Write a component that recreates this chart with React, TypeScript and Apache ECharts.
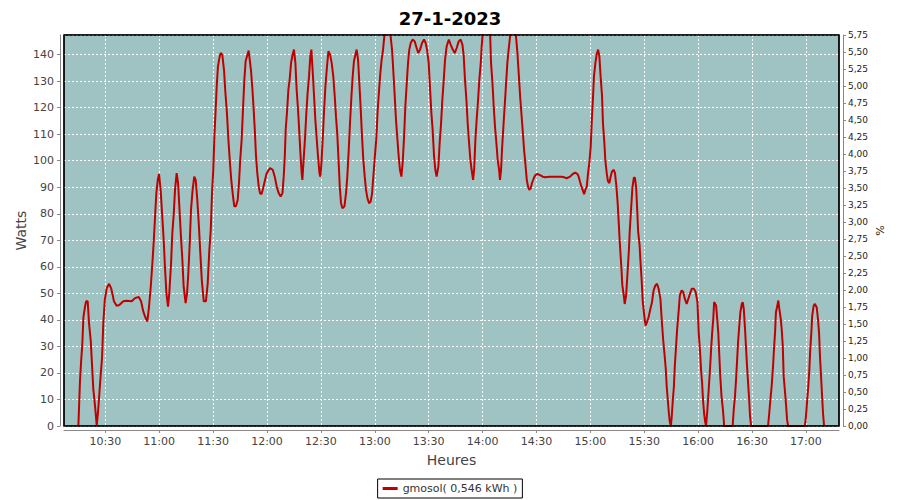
import React, { useEffect, useRef } from "react";
import * as echarts from "echarts";

// Chart texts
const chartTitle = "27-1-2023";
const seriesName = "gmosol( 0,546 kWh )";
const xAxisName = "Heures";
const yAxisName = "Watts";
const y2AxisName = "%";

// X tick labels (time of day)
const xTickLabels = ["10:30", "11:00", "11:30", "12:00", "12:30", "13:00", "13:30", "14:00", "14:30", "15:00", "15:30", "16:00", "16:30", "17:00"];

// Readings: [minutes since midnight, watts]
const readings10h: [number, number][] = [
  [615.0, 0], [615.9, 17], [616.5, 24], [617.2, 31], [617.8, 41], [618.7, 45], [619.3, 47], [620.2, 47], [620.9, 39], [621.9, 32], [622.8, 20.5], [623.3, 14], [624.1, 8.7], [624.8, 3.5], [625.2, 0], [625.9, 5], [626.7, 12.5], [627.4, 19], [628.2, 26], [628.9, 39], [629.7, 47.5], [630.8, 52], [632.1, 53.6], [633.2, 52], [634.1, 49.4], [634.8, 47], [636.3, 45.3], [637.8, 45.6], [640.0, 47], [641.9, 47.2], [644.7, 47], [646.5, 48.2], [648.6, 48.6], [649.9, 47], [651.2, 43], [652.5, 40.6], [653.4, 39.4], [654.3, 44.8], [655.3, 52.6], [656.2, 61.4], [656.9, 69], [657.7, 79], [658.4, 87.8], [659.2, 92.8], [659.9, 95],
];
const readings11h: [number, number][] = [
  [660.8, 89], [661.7, 79], [662.5, 70], [663.2, 60], [664.0, 50], [664.9, 45], [665.6, 50], [666.6, 61.4], [667.3, 72.7], [668.1, 80], [668.8, 89], [669.7, 95.3], [670.5, 91.6], [671.2, 82.8], [672.1, 71.4], [672.9, 62.6], [673.6, 52.6], [674.7, 46.3], [675.5, 50], [676.2, 57.6], [677.0, 69], [677.7, 81.5], [678.6, 89], [679.5, 94], [680.3, 92.8], [681.2, 85.3], [682.0, 76.5], [682.9, 65], [683.7, 55], [684.8, 47], [686.0, 47], [687.0, 53.8], [687.9, 66.4], [688.7, 74], [689.4, 87.8], [690.1, 96.6], [690.7, 109], [691.4, 119], [692.0, 128], [692.7, 135.6], [693.5, 138.7], [694.2, 140.6], [695.1, 140], [696.1, 134], [696.8, 126], [697.7, 118], [698.5, 108], [699.4, 99], [700.1, 92.8], [701.1, 86.5], [701.8, 82.8], [702.7, 82.8], [703.7, 85.3], [704.4, 91.6], [705.1, 100.4], [705.9, 108], [706.6, 119], [707.4, 130.6], [708.1, 137.5], [708.9, 139.5], [709.8, 141.5], [711.1, 134], [711.9, 126.8], [712.6, 119], [713.2, 111.7], [713.9, 101.6], [714.6, 95.3], [715.4, 90.3], [716.1, 87.8], [716.9, 87.4], [717.6, 89], [718.5, 91.6], [719.8, 95.3],
];
const readings12h: [number, number][] = [
  [721.7, 97.2], [723.2, 96.6], [724.3, 94], [725.4, 90.3], [726.5, 87.8], [727.6, 86.5], [728.6, 87.8], [729.3, 94], [729.9, 101.6], [730.4, 111.7], [731.2, 119], [731.9, 126.8], [732.6, 130.6], [733.4, 136.9], [734.1, 139.5], [735.0, 141.9], [735.8, 136.9], [736.5, 126.8], [737.3, 119], [737.8, 113], [738.6, 102.9], [739.3, 95.3], [739.7, 92.8], [740.4, 100.4], [741.2, 109], [741.9, 118], [742.6, 125.5], [743.4, 131.8], [744.1, 139.5], [744.7, 141.9], [745.4, 134], [746.2, 124.3], [746.9, 115.5], [747.7, 108], [748.4, 101.6], [749.2, 95.3], [749.7, 94], [750.3, 99.1], [751.0, 108], [751.7, 118], [752.5, 128], [753.4, 135.6], [754.2, 141.3], [755.1, 140], [756.0, 136.9], [756.9, 131.8], [757.7, 124.3], [758.4, 116.7], [759.2, 109], [759.9, 99.1], [760.5, 90.3], [761.2, 84], [762.0, 82.1], [763.1, 82.8], [764.0, 87.8], [764.7, 94], [765.5, 104.1], [766.2, 114.2], [767.0, 124.3], [767.7, 131.8], [768.4, 137.5], [769.2, 140], [769.9, 141.9], [770.7, 138], [771.4, 129.3], [772.2, 119], [772.9, 109], [773.6, 100.4], [774.4, 94], [775.1, 89], [775.9, 85.9], [776.8, 84], [777.7, 84.6], [778.5, 87.8], [779.2, 94],
];
const readings13h: [number, number][] = [
  [779.9, 100.4], [780.9, 109], [781.6, 119], [782.4, 126.8], [783.1, 133.1], [783.8, 138], [784.6, 141.9], [785.3, 146.9], [786.3, 150], [788.1, 150], [788.8, 146.9], [789.6, 141.9], [790.3, 134], [791.1, 124.3], [791.8, 115.5], [792.6, 108], [793.3, 101.6], [794.0, 96.6], [794.8, 94], [795.5, 99.1], [796.3, 109], [797.0, 120.5], [797.8, 129.3], [798.5, 136.9], [799.2, 141.9], [800.0, 144.4], [801.1, 145.7], [802.2, 145], [803.3, 142.5], [804.2, 140.6], [805.2, 141.9], [806.3, 144.4], [807.4, 145.7], [808.3, 144.4], [809.1, 141.9], [810.0, 136.9], [810.7, 128], [811.5, 118], [812.2, 111.7], [813.0, 101.6], [813.7, 96.6], [814.4, 94], [815.4, 97.8], [816.1, 106.6], [816.9, 114.2], [817.6, 123], [818.4, 130.6], [819.1, 138], [820.0, 143.1], [821.2, 145.7], [822.3, 143.7], [823.4, 141.9], [824.5, 140.6], [825.6, 142.5], [826.7, 145], [827.8, 145.7], [828.8, 143.7], [829.5, 139.5], [830.2, 130.6], [831.0, 123], [831.7, 114.2], [832.5, 106.6], [833.2, 100.4], [833.9, 96.6], [834.7, 92.8], [835.3, 96.6], [836.0, 108], [836.7, 115.5], [837.5, 123], [838.2, 130.6], [839.0, 136.9], [839.5, 143.1],
];
const readings14h: [number, number][] = [
  [840.1, 148], [841.2, 152], [843.0, 152], [844.2, 148], [844.7, 136.9], [845.5, 129.3], [846.2, 120.5], [846.9, 113], [847.7, 106.6], [848.4, 100.4], [849.2, 96.6], [849.7, 92.8], [850.3, 96.6], [850.8, 104.1], [851.6, 113], [852.3, 120.5], [853.1, 129.3], [853.8, 136.9], [854.5, 141.9], [855.3, 146.9], [856.2, 150], [857.7, 150], [858.6, 146.9], [859.4, 140.6], [860.1, 133.1], [860.9, 124.3], [861.6, 118], [862.3, 111.7], [863.1, 104.1], [863.8, 99.1], [864.6, 92.8], [865.3, 90.3], [866.0, 89], [866.8, 89.6], [867.5, 91.6], [868.5, 93.4], [869.4, 94.6], [870.5, 95], [872.0, 94.6], [873.5, 94], [875.0, 93.8], [877.2, 94], [879.4, 94], [881.6, 94], [883.9, 94], [885.3, 93.8], [886.8, 93.4], [888.7, 94], [890.2, 95], [891.6, 95.5], [892.8, 95], [893.5, 94], [894.2, 92.2], [895.0, 90.3], [895.7, 89], [896.5, 87.4], [897.2, 89], [898.0, 90.3], [898.7, 95.3], [899.4, 99.1],
];
const readings15h: [number, number][] = [
  [900.2, 105.4], [900.9, 116.7], [901.5, 124.3], [902.0, 131.8], [902.8, 136.9], [903.5, 140], [904.3, 141.9], [905.0, 139.5], [905.7, 131.8], [906.5, 124.3], [907.0, 114.2], [907.8, 106.6], [908.3, 100.4], [909.1, 95.3], [909.8, 92.2], [910.6, 91.6], [911.3, 94], [912.0, 95.9], [913.0, 96.6], [913.7, 95.3], [914.5, 90.3], [915.2, 84], [915.8, 76.5], [916.3, 70], [917.3, 59.3], [917.8, 53], [918.6, 49.2], [919.1, 46], [919.9, 49.2], [920.6, 56.8], [921.4, 65.7], [921.9, 73.3], [922.7, 82.2], [923.4, 89.8], [924.2, 93.6], [924.8, 93.6], [925.5, 89.8], [926.1, 80.9], [926.6, 73.3], [927.4, 68.2], [927.9, 61.9], [928.5, 55.5], [929.2, 46.7], [930.0, 41.6], [930.7, 37.8], [931.5, 39.1], [932.4, 41], [933.4, 44.1], [934.3, 46.7], [935.2, 51.1], [936.2, 53], [937.1, 53.6], [938.0, 51.7], [939.0, 47.9], [939.7, 40.3], [940.5, 32.7], [941.2, 27.6], [942.0, 21.3], [942.5, 14.9], [943.1, 9.9], [943.7, 4.8], [944.2, 1.6], [944.8, 0], [945.3, 3.5], [945.9, 9.9], [946.5, 14.9], [947.0, 22.6], [947.6, 28.9], [948.3, 36.5], [949.1, 42.9], [949.8, 49.2], [950.8, 51.1], [951.7, 50.5], [952.6, 47.9], [953.6, 46], [954.5, 47.9], [955.4, 49.8], [956.4, 51.7], [957.7, 51.7], [958.6, 50.5], [959.6, 46.7],
];
const readings16h: [number, number][] = [
  [960.3, 35.2], [961.1, 27.6], [961.6, 21.3], [962.2, 16.2], [962.7, 9.9], [963.3, 4.8], [963.9, 1.6], [964.4, 0], [965.0, 4.8], [965.5, 9.9], [966.1, 16.2], [966.7, 22.6], [967.2, 28.9], [967.8, 35.2], [968.4, 40.3], [968.9, 46.7], [969.5, 46], [970.0, 45.4], [970.6, 40.3], [971.2, 35.2], [971.7, 27.6], [972.3, 18.8], [973.0, 11.2], [973.8, 6.1], [974.5, 0], [979.2, 0], [979.8, 6.1], [980.5, 11.2], [981.1, 17.5], [981.6, 23.8], [982.2, 31.4], [982.9, 37.8], [983.5, 42.9], [984.3, 46], [984.8, 46.7], [985.4, 44.1], [986.1, 36.5], [986.7, 28.9], [987.2, 22.6], [987.8, 16.2], [988.4, 9.9], [988.9, 3.5], [989.5, 0], [998.9, 0], [999.4, 3.5], [1000.2, 9.9], [1000.9, 14.9], [1001.7, 22.6], [1002.2, 28.9], [1002.8, 35.2], [1003.3, 42.9], [1004.1, 45.4], [1004.6, 47.3], [1005.2, 44.1], [1006.0, 40.3], [1006.5, 36.5], [1007.1, 30.2], [1007.6, 18.8], [1008.4, 12.4], [1009.0, 7.3], [1009.5, 2.3], [1010.1, 0], [1019.4, 0], [1020.0, 3.5], [1020.7, 9.9], [1021.3, 14.9], [1021.9, 21.3], [1022.4, 28.9], [1023.0, 35.2], [1023.5, 41.6], [1024.3, 45.4], [1025.0, 46], [1026.0, 44.7], [1026.7, 40.3], [1027.3, 35.2], [1027.8, 26.4], [1028.4, 18.8], [1028.9, 12.4], [1029.5, 4.8], [1030.1, 0],
];

const toMinutes = (s: string) => {
  const [h, m] = s.split(":").map(Number);
  return h * 60 + m;
};
const fmtTime = (v: number) => {
  const h = Math.floor(v / 60);
  const m = Math.round(v - h * 60);
  return `${h}:${String(m).padStart(2, "0")}`;
};

const GRID = { left: 64, right: 61, top: 35, bottom: 74 };
const W = 900;
const H = 500;

export default function App() {
  const ref = useRef<HTMLDivElement>(null);
  useEffect(() => {
    if (!ref.current) return;
    const chart = echarts.init(ref.current, undefined, { renderer: "svg" });
    const xTicks = xTickLabels.map(toMinutes);
    const data = [
      ...readings10h, ...readings11h, ...readings12h, ...readings13h,
      ...readings14h, ...readings15h, ...readings16h,
    ];
    const font = "DejaVu Sans";
    chart.setOption({
      animation: false,
      backgroundColor: "#ffffff",
      textStyle: { fontFamily: font },
      title: {
        text: chartTitle,
        left: "center",
        top: 4,
        textStyle: { fontFamily: font, fontWeight: "bold", fontSize: 18, color: "#000" },
      },
      grid: {
        ...GRID,
        show: true, backgroundColor: "#9fc3c2", borderColor: "#000", borderWidth: 1,
      },
      graphic: [
        {
          type: "rect",
          z: 100,
          silent: true,
          shape: { x: GRID.left, y: GRID.top, width: W - GRID.left - GRID.right, height: H - GRID.top - GRID.bottom },
          style: { fill: "none", stroke: "#000", lineWidth: 1.5 },
        },
      ],
      legend: {
        data: [seriesName],
        left: "center",
        bottom: 2,
        borderColor: "#000",
        borderWidth: 1,
        borderRadius: 0,
        padding: [4, 5, 4, 5],
        icon: "rect",
        itemWidth: 15,
        itemHeight: 3,
        textStyle: { fontFamily: font, fontSize: 11, color: "#333" },
      },
      xAxis: {
        type: "value",
        min: 607,
        max: 1038.4,
        offset: 4,
        name: xAxisName,
        nameLocation: "middle",
        nameGap: 23,
        nameMoveOverlap: false,
        nameTextStyle: { fontFamily: font, fontSize: 14, color: "#444" },
        axisLine: { show: true, onZero: false, lineStyle: { color: "#888" } },
        axisTick: { show: true, length: 3, customValues: xTicks, lineStyle: { color: "#888" } },
        axisLabel: { customValues: xTicks, formatter: (v: number) => fmtTime(v), color: "#444", fontSize: 11, margin: 6 },
        splitLine: { show: true, lineStyle: { color: "#ffffff", type: [2, 2], width: 1 } },
      },
      yAxis: [
        {
          type: "value",
          position: "left",
          min: 0,
          max: 147.4,
          interval: 10,
          offset: 4,
          name: yAxisName,
          nameLocation: "middle",
          nameGap: 32,
          nameMoveOverlap: false,
          nameTextStyle: { fontFamily: font, fontSize: 14, color: "#444" },
          axisLine: { show: true, onZero: false, lineStyle: { color: "#888" } },
          axisTick: { show: true, length: 3, lineStyle: { color: "#888" } },
          axisLabel: { color: "#444", fontSize: 11, margin: 6, showMaxLabel: false },
          splitLine: { show: true, lineStyle: { color: "#ffffff", type: [2, 2], width: 1 } },
        },
        {
          type: "value",
          position: "right",
          min: 0,
          max: 5.75,
          interval: 0.25,
          offset: 4,
          name: y2AxisName,
          nameLocation: "middle",
          nameGap: 32,
          nameMoveOverlap: false,
          nameTextStyle: { fontFamily: font, fontSize: 11, color: "#222" },
          axisLine: { show: true, onZero: false, lineStyle: { color: "#888" } },
          axisTick: { show: true, length: 3, lineStyle: { color: "#888" } },
          axisLabel: {
            color: "#222", fontSize: 9, margin: 5,
            formatter: (v: number) => v.toFixed(2).replace(".", ","),
          },
          splitLine: { show: false },
        },
      ],
      series: [
        {
          type: "line",
          name: seriesName,
          yAxisIndex: 0,
          data,
          symbol: "none",
          showSymbol: false,
          clip: true,
          lineStyle: { color: "#c00000", width: 2 },
          itemStyle: { color: "#c00000" },
        },
      ],
    });
    return () => chart.dispose();
  }, []);
  return <div ref={ref} style={{ position: "fixed", left: 0, top: 0, width: W, height: H }} />;
}
